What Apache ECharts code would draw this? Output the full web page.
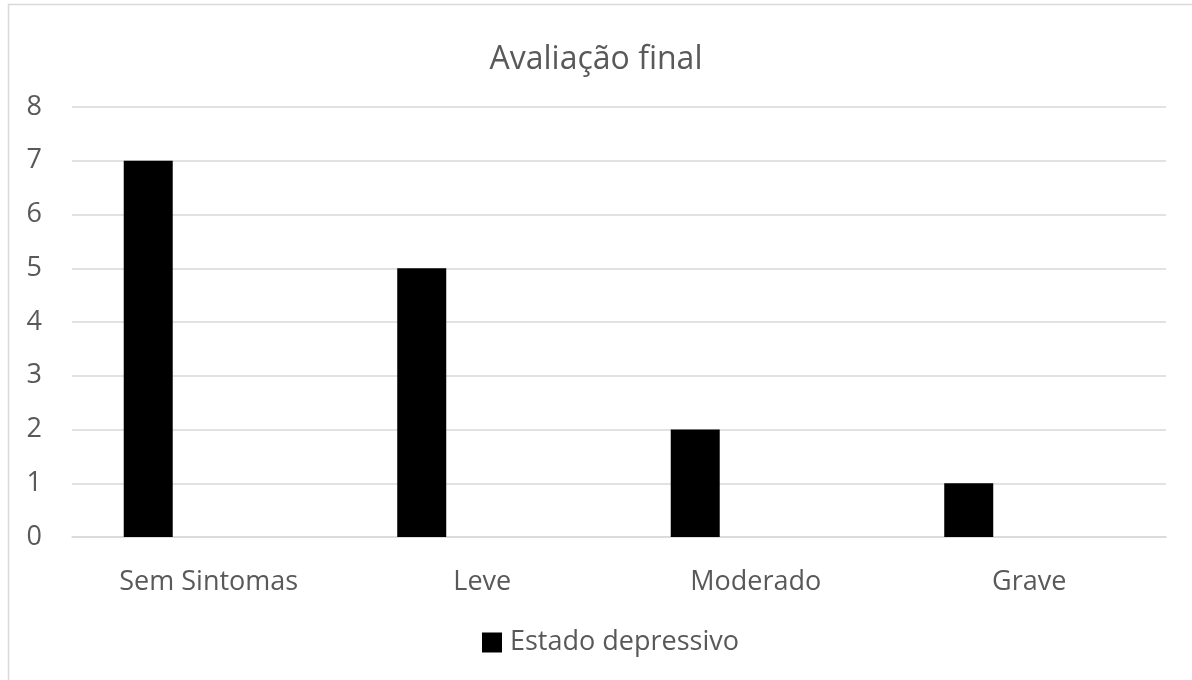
<!DOCTYPE html>
<html>
<head>
<meta charset="utf-8">
<script src="https://cdn.jsdelivr.net/npm/echarts@6/dist/echarts.min.js"></script>
<style>
  html, body { margin: 0; padding: 0; background: #fff; }
  #chart { width: 1192px; height: 680px; }
</style>
</head>
<body>
<div id="chart"></div>
<script>
const categories = ['Sem Sintomas', 'Leve', 'Moderado', 'Grave']
const estadoDepressivo = [7, 5, 2, 1]
// segunda série vazia (ocupa o espaço à direita de cada barra, como no Excel)
const serieVazia = [null, null, null, null]
const yTicks = { min: 0, max: 8, interval: 1 }

const font = '"Open Sans", "Noto Sans", sans-serif'
const chart = echarts.init(document.getElementById('chart'))

chart.setOption({
  animation: false,
  textStyle: { fontFamily: font },
  title: {
    text: 'Avaliação final',
    left: 'center',
    top: 39,
    textStyle: { fontSize: 32, fontWeight: 'normal', color: '#595959', fontFamily: font }
  },
  graphic: [{
    type: 'rect',
    shape: { x: 8.5, y: 4.5, width: 1200, height: 700 },
    style: { fill: 'none', stroke: '#d9d9d9', lineWidth: 1.5 },
    silent: true
  }],
  legend: {
    data: ['Estado depressivo'],
    left: 477,
    top: 624,
    icon: 'rect',
    itemWidth: 20,
    itemHeight: 20,
    itemGap: 4,
    textStyle: { fontSize: 27, color: '#595959', fontFamily: font, padding: [0, 0, 0, 3] }
  },
  grid: { left: 72, right: 26, top: 107, bottom: 143 },
  xAxis: {
    type: 'category',
    data: categories,
    axisLine: { lineStyle: { color: '#d9d9d9', width: 1.5 } },
    axisTick: { show: false },
    axisLabel: { fontSize: 27, color: '#595959', margin: 32, fontFamily: font }
  },
  yAxis: {
    type: 'value',
    min: yTicks.min,
    max: yTicks.max,
    interval: yTicks.interval,
    axisLine: { show: false },
    axisTick: { show: false },
    splitLine: { lineStyle: { color: '#d9d9d9', width: 1.5 } },
    axisLabel: { fontSize: 27, color: '#595959', margin: 30, fontFamily: font }
  },
  series: [
    {
      name: 'Estado depressivo',
      type: 'bar',
      data: estadoDepressivo,
      barWidth: 49,
      barGap: '147%',
      itemStyle: { color: '#000000' }
    },
    {
      name: '',
      type: 'bar',
      data: serieVazia,
      barWidth: 49,
      itemStyle: { color: '#000000' }
    }
  ]
})
</script>
</body>
</html>
